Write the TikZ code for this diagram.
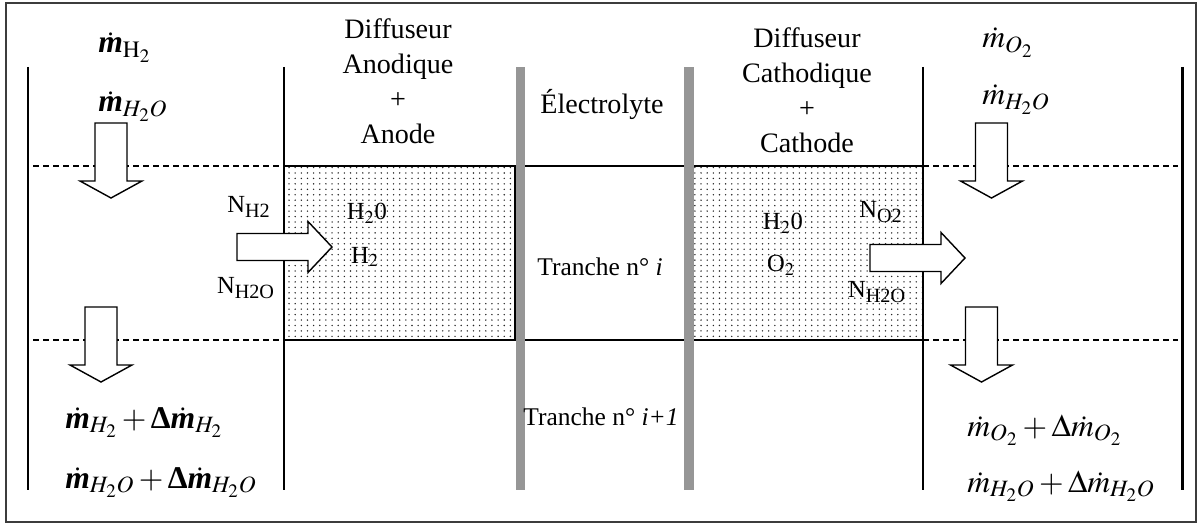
\documentclass[tikz,border=0pt]{standalone}
\usepackage{amsmath}
\usepackage{mathptmx}
\usepackage[no-math]{fontspec}
\setmainfont{Liberation Serif}
\usetikzlibrary{patterns,positioning,calc}
\definecolor{membgray}{RGB}{150,150,150}
\definecolor{framegray}{RGB}{60,60,60}

% fine dot pattern for the porous layers
\pgfdeclarepatternformonly{finedots}{\pgfpoint{-1pt}{-1pt}}{\pgfpoint{1pt}{1pt}}{\pgfpoint{3.5pt}{3.1pt}}%
  {\pgfpathcircle{\pgfpoint{0pt}{0pt}}{0.45pt}\pgfusepath{fill}}

\newcommand{\mdotb}{\dot{\text{\bfseries\itshape m}}}
\newcommand{\Dlt}{\text{\bfseries\textDelta}}
\newcommand{\textDelta}{Δ}
% block arrows, given top centre / tail centre
\newcommand{\fluxdown}[1]{\draw[fatarrow] (#1) ++(-16,0) -- ++(0,58) -- ++(-15,0) -- ++(31,17) -- ++(31,-17) -- ++(-15,0) -- ++(0,-58) -- cycle;}
\newcommand{\fluxright}[1]{\draw[fatarrow] (#1) ++(0,-13.5) -- ++(71,0) -- ++(0,-12) -- ++(24,25.5) -- ++(-24,25.5) -- ++(0,-12) -- ++(-71,0) -- cycle;}

\begin{document}
\begin{tikzpicture}[
  x=0.02cm, y=-0.02cm,
  lbl/.style={font=\fontsize{16}{20}\selectfont, align=center, inner sep=0pt},
  tch/.style={font=\fontsize{14.5}{18}\selectfont, inner sep=0pt},
  spc/.style={font=\fontsize{14}{16}\selectfont, inner sep=0pt},
  flx/.style={font=\fontsize{18}{20}\selectfont, inner sep=0pt, anchor=base west},
  layer/.style={draw=black, line width=0.7pt, pattern=finedots, pattern color=black!85, minimum height=3.48cm, inner sep=0pt},
  wall/.style={line width=1.7pt},
  side/.style={line width=0.8pt},
  slice/.style={dashed, dash pattern=on 3.4pt off 2.3pt, line width=0.6pt},
  memb/.style={fill=membgray, draw=none},
  fatarrow/.style={draw=black, fill=white, line width=0.8pt, line join=miter}
]
\useasboundingbox (0,0) rectangle (1199,527);
\draw[framegray, line width=1pt] (6,3) rectangle (1196,522);

% porous layers
\node[layer, minimum width=4.62cm] (anode) at (399.5,253) {};
\node[layer, minimum width=4.60cm] (cathode) at (808,253) {};

% channel walls and layer limits
\draw[wall] (28,67) -- (28,490);
\draw[wall] (1182,67) -- (1182,490);
\draw[side] (284,67) -- (284,490);
\draw[side] (923,67) -- (923,490);

% membrane
\fill[memb] (515.5,67) rectangle (525,490);
\fill[memb] (684,67) rectangle (693.5,490);
\draw[line width=0.7pt] (525,166) -- (684,166);
\draw[line width=0.7pt] (525,340) -- (684,340);

% slice limits in the channels
\draw[slice] (33,166) -- (284,166);
\draw[slice] (33,340) -- (284,340);
\draw[slice] (923,166) -- (1178,166);
\draw[slice] (923,340) -- (1178,340);

% block arrows
\coordinate (inTL) at (111,123);
\coordinate (outBL) at (101,307);
\coordinate (inTR) at (991.5,123);
\coordinate (outBR) at (981.5,307);
\coordinate (fluxA) at (237,247);
\coordinate (fluxC) at (870,258);
\fluxdown{inTL}
\fluxdown{outBL}
\fluxdown{inTR}
\fluxdown{outBR}
\fluxright{fluxA}
\fluxright{fluxC}

% headings
\node[lbl] (hAn) at (398,81) {Diffuseur\\Anodique\\+\\Anode};
\node[lbl] (hEl) at (602,104) {Électrolyte};
\node[lbl] (hCa) at (807,90) {Diffuseur\\Cathodique\\+\\Cathode};
\node[tch] (tr1) at (600,267) {Tranche n° \textit{i}};
\node[tch] (tr2) at (601,417) {Tranche n° \textit{i+1}};

% species in the layers
\node[spc] (nh2) at (249,207) {N$_{\text{\fontsize{11.5}{12}\selectfont H2}}$};
\node[spc] (nh2oA) at (246,288) {N$_{\text{\fontsize{11.5}{12}\selectfont H2O}}$};
\node[spc] (h2oA) at (367,213) {H$_2$0};
\node[spc] (h2A) at (365,257) {H$_2$};
\node[spc] (h2oC) at (783,223) {H$_2$0};
\node[spc] (o2C) at (781,265) {O$_2$};
\node[spc] (no2) at (881,212) {N$_{\text{\fontsize{11.5}{12}\selectfont O2}}$};
\node[spc] (nh2oC) at (877,292) {N$_{\text{\fontsize{11.5}{12}\selectfont H2O}}$};

% mass flows, anode channel
\node[flx] (mh2in) at (98,53) {$\mdotb_{\mathrm{H}_2}$};
\node[flx] (mh2oin) at (98,112) {$\mdotb_{H_2O}$};
\node[flx] (mh2out) at (65,428) {$\mdotb_{H_2}+\Dlt\mdotb_{H_2}$};
\node[flx] (mh2oout) at (65,488) {$\mdotb_{H_2O}+\Dlt\mdotb_{H_2O}$};

% mass flows, cathode channel
\node[flx] (mo2in) at (982,48) {$\dot{m}_{O_2}$};
\node[flx] (mh2oinC) at (982,105) {$\dot{m}_{H_2O}$};
\node[flx] (mo2out) at (967,436) {$\dot{m}_{O_2}+\Delta\dot{m}_{O_2}$};
\node[flx] (mh2ooutC) at (967,492) {$\dot{m}_{H_2O}+\Delta\dot{m}_{H_2O}$};
\end{tikzpicture}
\end{document}
